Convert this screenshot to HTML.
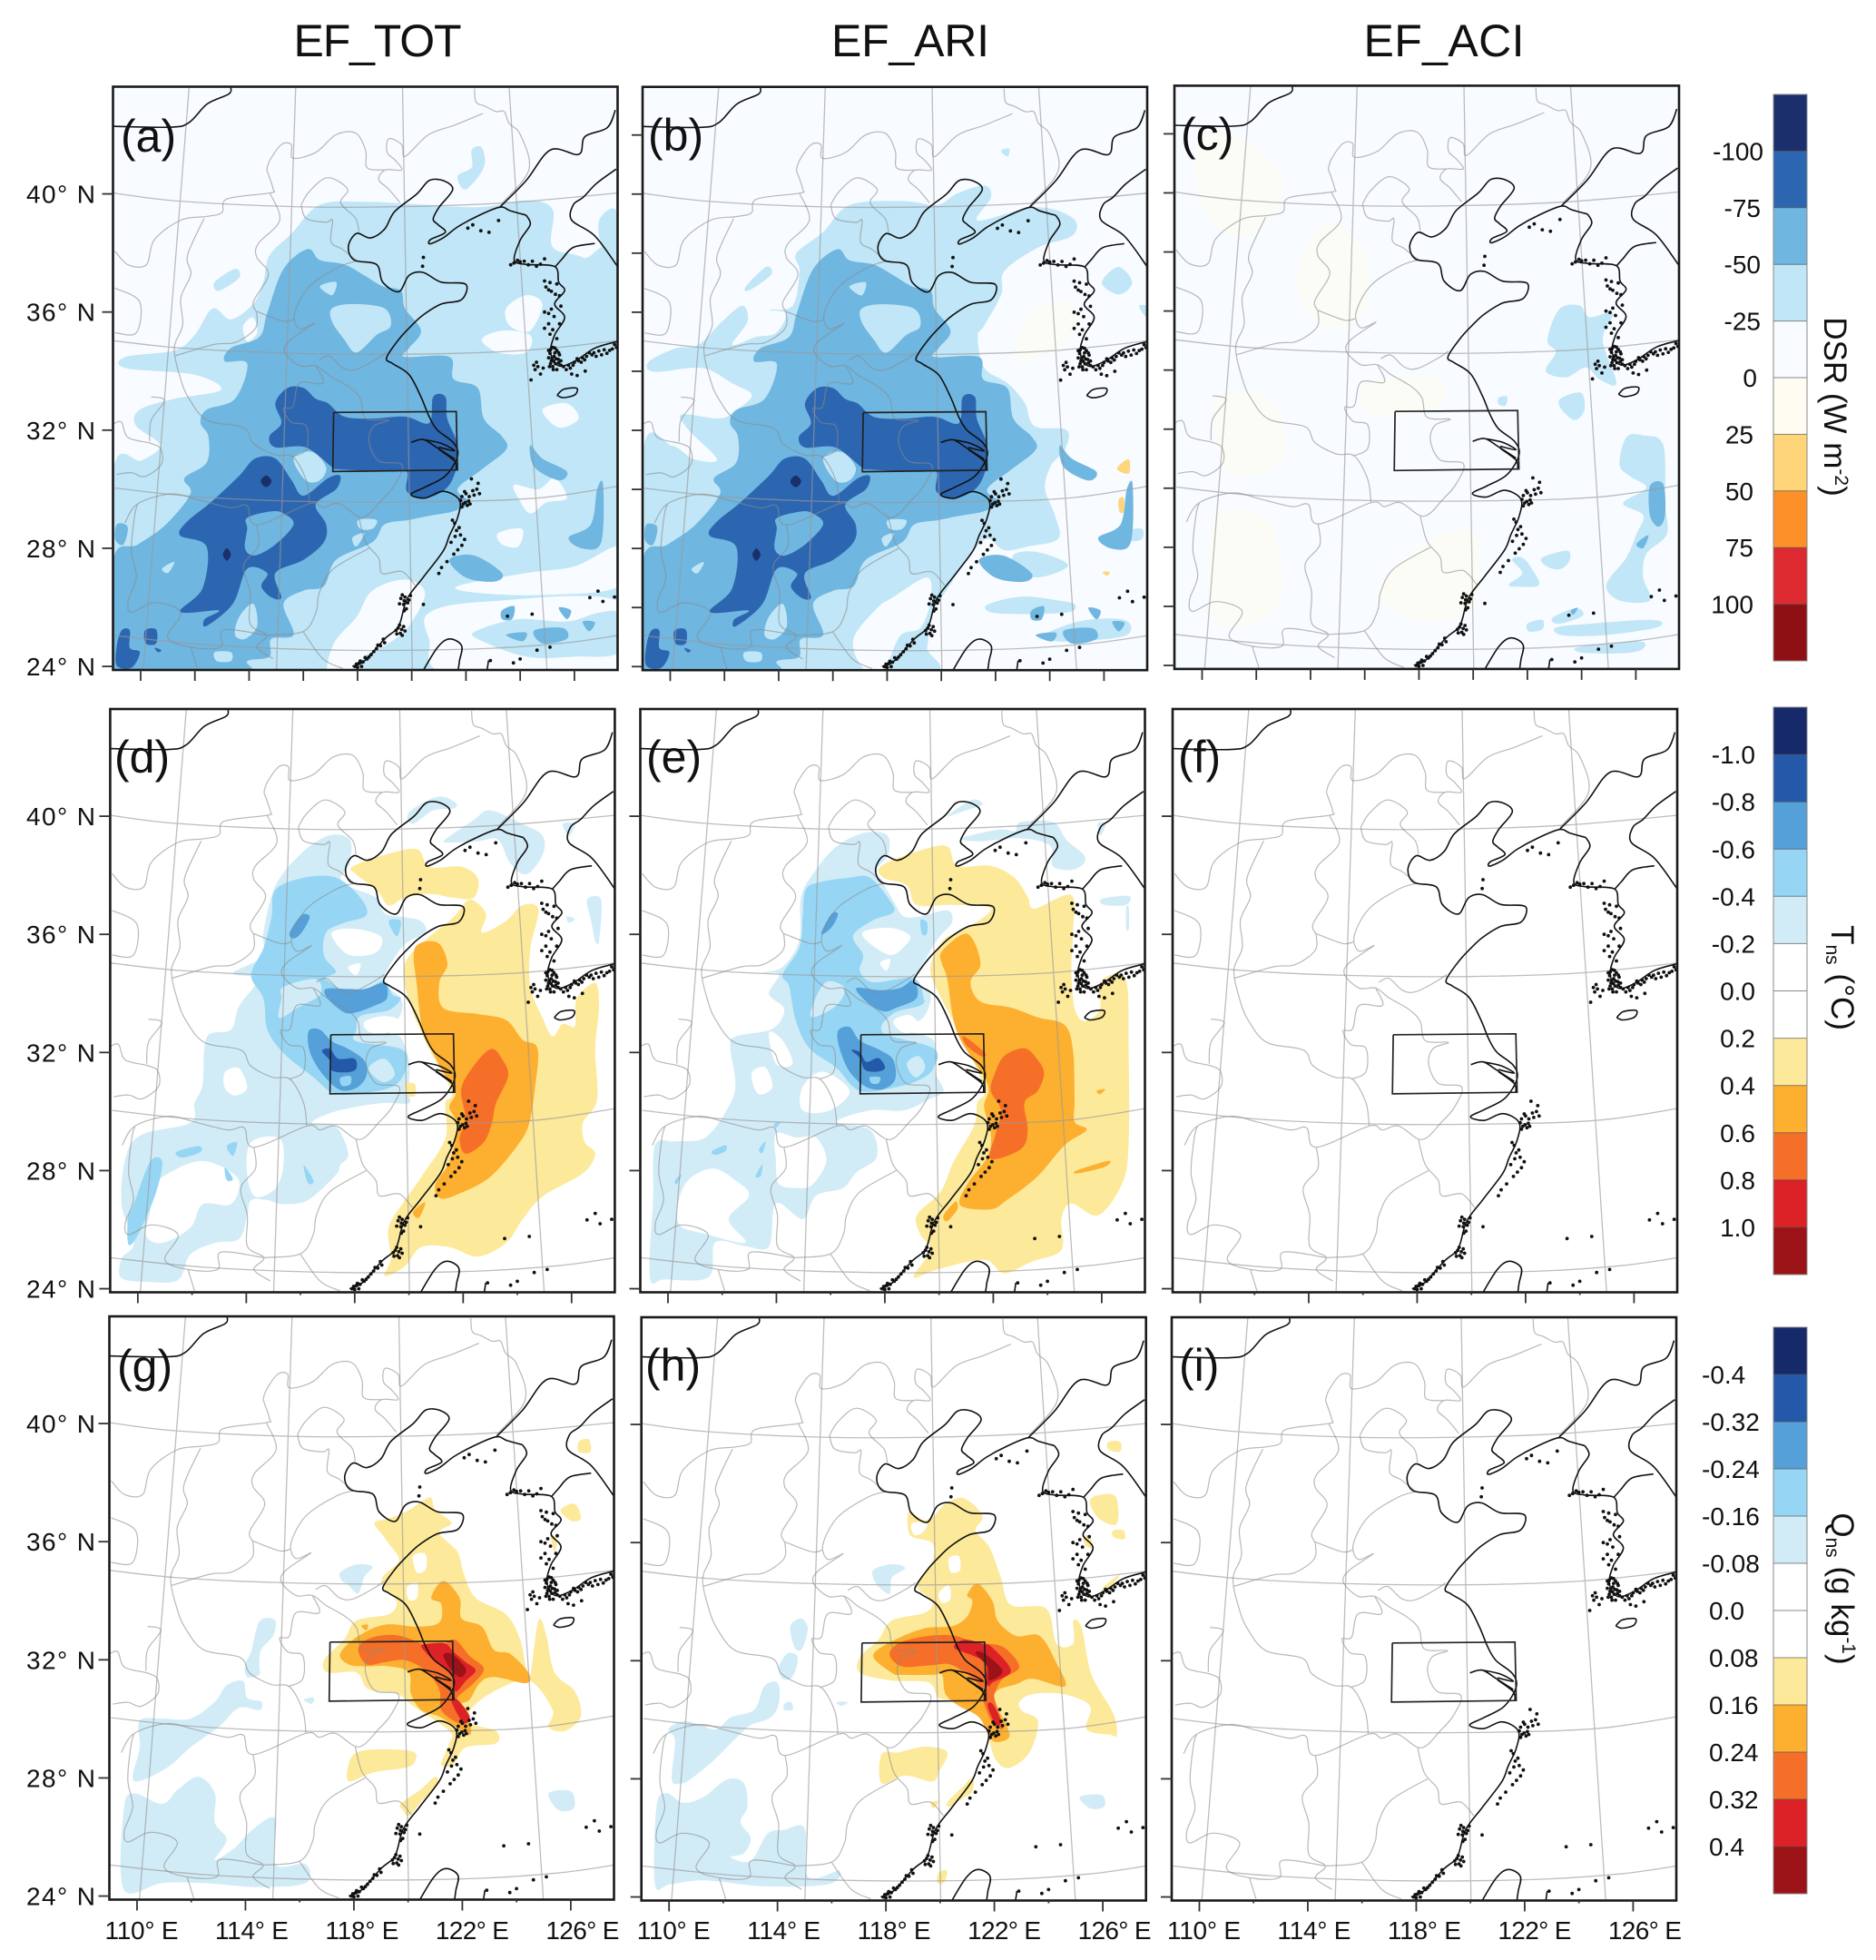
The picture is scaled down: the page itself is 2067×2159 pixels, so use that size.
<!DOCTYPE html>
<html lang="en">
<head>
<meta charset="utf-8">
<title>EF_TOT, EF_ARI and EF_ACI maps</title>
<style>
html,body{margin:0;padding:0;background:#fff;}
svg{display:block;}
text{font-family:"Liberation Sans","DejaVu Sans",sans-serif;fill:#111;}
</style>
</head>
<body>
<svg id="figure" xmlns="http://www.w3.org/2000/svg" width="2067" height="2159" viewBox="0 0 2067 2159">
<rect x="0" y="0" width="2067" height="2159" fill="#ffffff"/>
<g id="maps"></g>
<g id="bars"></g>
<text x="416" y="62" font-size="50" text-anchor="middle" textLength="185">EF_TOT</text>
<text x="1003" y="62" font-size="50" text-anchor="middle" textLength="174">EF_ARI</text>
<text x="1591" y="62" font-size="50" text-anchor="middle" textLength="177">EF_ACI</text>
<text x="133" y="167" font-size="50">(a)</text>
<text x="714" y="166" font-size="50">(b)</text>
<text x="1301" y="165" font-size="50">(c)</text>
<text x="126" y="851" font-size="50">(d)</text>
<text x="712" y="851" font-size="50">(e)</text>
<text x="1298" y="851" font-size="50">(f)</text>
<text x="129" y="1522" font-size="50">(g)</text>
<text x="711" y="1521" font-size="50">(h)</text>
<text x="1299" y="1521" font-size="50">(i)</text>
<text transform="translate(2010 448) rotate(90)" font-size="35" text-anchor="middle">DSR (W m<tspan font-size="21" dy="-12">-2</tspan><tspan dy="12">)</tspan></text>
<text transform="translate(2018 1077) rotate(90)" font-size="35" text-anchor="middle">T<tspan font-size="21" dy="6">ns</tspan><tspan dy="-6"> (°C)</tspan></text>
<text transform="translate(2018 1750) rotate(90)" font-size="35" text-anchor="middle">Q<tspan font-size="21" dy="6">ns</tspan><tspan dy="-6"> (g kg</tspan><tspan font-size="21" dy="-12">-1</tspan><tspan dy="12">)</tspan></text>
</svg>
<script>
/* ---------- tick values ---------- */
const lonTicks=[110,112,114,116,118,120,122,124,126];
const latTicks=[24,26,28,30,32,34,36,38,40,42];
const lonLabels=["110° E","114° E","118° E","122° E","126° E"];
const lonLabelValues=[110,114,118,122,126];
const latLabels=["24° N","28° N","32° N","36° N","40° N"];
const latLabelValues=[24,28,32,36,40];

/* ---------- colorbar levels ---------- */
const dsrLevels=["-100","-75","-50","-25","0","25","50","75","100"];
const tnsLevels=["-1.0","-0.8","-0.6","-0.4","-0.2","0.0","0.2","0.4","0.6","0.8","1.0"];
const qnsLevels=["-0.4","-0.32","-0.24","-0.16","-0.08","0.0","0.08","0.16","0.24","0.32","0.4"];

/* ---------- geography, lon/lat pairs ---------- */
const parallels=[
[108.99,40.03,111.36,39.76,115.62,39.57,119.63,39.57,123.53,39.7,127.6,40.03],
[108.99,35.03,111.5,34.78,115.38,34.61,119.88,34.57,124.14,34.7,127.6,35.03],
[109.05,30.04,112,29.75,116.23,29.58,121.09,29.58,124.74,29.71,127.6,30.1],
[108.99,25.05,112.58,24.72,117.45,24.55,122.31,24.59,125.5,24.78,127.6,25.05]];
const meridians=[
[111.79,43.63,110.09,23.88],[115.72,43.63,115.01,23.88],[119.66,43.63,120.02,23.88],[123.59,43.63,124.99,23.88]];
const provinceLines=[
[122.31,43.57,122.37,43.11,122.68,42.98,123.1,42.79,123.41,42.79,123.59,42.39,124.01,42,124.32,40.81,123.28,39.63],
[122.62,42.72,121.58,42.33,120.61,42,119.76,41.27,119.63,41.67,119.15,41.87,119.09,41.41,119.39,41.14,119.63,40.81,119.03,40.81,118.78,40.49,119.15,40.16,119.57,39.7],
[114.65,40.81,114.77,41.14,115.19,41.67,115.56,41.67,115.62,41.21,116.47,41.41,117.2,42,117.93,42.06,118.3,41.47,118.36,40.88,119.03,40.81],
[114.65,40.81,114.89,40.16,114.77,40.03,113.19,39.83,113,39.37,112.46,39.24,111.48,39.11,110.51,38.45,110.21,37.6,109.54,37.6,109.05,38.06],
[114.77,40.03,115.13,39.11,114.34,38.32,114.28,37.86,114.71,37.27,114.16,36.35,114.28,35.95,114.22,35.43,113.49,34.97,112.7,34.9,111.24,34.51],
[112.34,39.17,111.73,37.92,111.85,37.27,111.48,36.48,111.55,35.56,111.24,34.77,111.48,33.72,111.79,33.06,112.46,32.34,113.8,32.08,114.16,31.55,114.95,31.16,115.62,31.09,116.11,30.3,116.23,29.51],
[117.99,37.73,117.32,37.53,116.23,36.87,115.68,35.95,115.86,35.43,116.41,35.62,115.5,35.04,115.32,34.64,115.86,34.18,116.47,34.18,116.96,33.85,117.69,33.46,118.11,33.06,118.3,32.4,119.15,32.34,118.6,32.14,118.42,31.62,118.78,30.96,119.64,30.83,119.39,30.17,118.91,29.65,118.18,29.05,117.32,29.51,116.72,29.38,116.23,29.51,114.28,28.79,113.92,29.45,113.31,29.38,112.09,29.65,111.12,29.84,109.9,29.51,109.42,28.86],
[115.92,39.63,116.23,40.09,116.9,40.55,117.63,40.16,117.38,39.7,117.93,39.17,118.05,38.71],
[115.92,39.63,116.11,39.17,116.84,39.04,117.08,39.11,117.02,38.38,117.45,38.12,117.99,37.73],
[114.28,36.02,115.26,35.69,115.68,35.76],
[116.47,34.18,116.72,33.59,115.86,33.59,115.62,32.8,115.26,32.73,115.56,32.27,116.11,32.14,116.11,31.35,115.56,31.09],
[116.59,34.38,116.96,34.51,117.45,34.11,117.93,34.05,118.66,34.38,119.09,34.64],
[118.05,29.05,118.3,28.2,118.78,27.67,118.91,27.15,119.64,27.21,120.12,26.75],
[118.42,28,117.08,27.28,116.59,26.49,116.47,25.83,115.99,25.18,114.65,25.05],
[114.28,28.79,114.34,28.07,113.8,27.41,114.04,26.49,114.04,25.44,114.65,25.05,114.28,24.65,114.89,24.26],
[109.9,29.51,109.78,29.12,109.66,27.94,109.84,27.02,109.54,26.23,109.66,25.83,110.51,26.16,111.48,25.83,111,24.98,111.85,24.65,112.94,24.65,113.07,25.24,114.65,25.05],
[108.99,32.21,109.29,32.27,109.54,31.75,110.39,31.55,110.75,31.35,110.75,30.83,110.15,30.43,109.66,30.56,109.11,30.5],
[110.39,33.13,110.88,33,110.39,32.34,110.33,31.62],
[109.05,36.81,109.96,36.35,109.84,35.3,109.05,35.3],
[115.99,25.18,116.72,24.26,117.45,23.93],
[111.85,24.65,112.09,23.93]];
const coastLines=[
[124.22,39.28,123.63,39.43,123.25,39.55,122.43,39.25,121.69,38.88,121.16,38.51,120.67,38.31,120.7,38.46,121.24,38.7,120.97,38.96,120.79,39.15,121.01,39.55,121.51,40.15,121.16,40.45,120.64,40.45,120.19,40,119.37,39.4,119,38.81,118.48,38.51,117.96,38.66,117.66,38.21,117.88,37.76,118.7,37.61,118.93,37.01,119.52,36.69,119.9,37.24,120.42,37.34,121.09,37.01,121.99,36.94,121.84,36.42,121.09,36.27,120.42,35.9,119.97,35.52,119.52,35.07,119.07,34.45,119.3,34.25,119.9,33.88,120.34,33.13,120.64,32.46,120.94,32.01,121.54,31.57,121.69,31.12,121.24,30.45,120.49,30.07,119.97,29.82,120.49,29.7,121.16,29.93,121.76,29.63,121.69,29.03,121.39,28.43,121.16,27.91,120.42,27.01,119.82,26.27,119.52,25.37,119,24.93,118.25,24.18,117.81,24],
[124.22,39.28,124.37,38.96,124,38.43,123.78,37.76,124.22,37.61,125.27,37.54,125.42,37.01,125.64,36.72,125.27,36.27,125.64,35.82,125.27,35.22,125.12,34.63,125.42,34.18,126.01,34.33,126.76,34.78,127.57,35],
[123.25,39.55,124.22,40.45,125.12,41.49,126.16,41.34,126.39,41.94,127.21,42.24,127.51,42.84],
[127.54,40.84,126.81,40.35,126.33,39.89,125.96,39.63,125.9,39.11,126.75,38.58,127.6,37.53],
[126.75,38.32,125.96,38.19,125.54,37.79,125.29,37.53],
[108.99,42.29,111.12,42.26,111.79,42.42,112.46,43.05,113.25,43.38,113.33,43.6],
[120.34,23.73,120.94,24.63,121.39,24.93,121.84,24.7,121.76,24.18,121.69,23.73],
[122.83,24.2,122.78,23.88],
[119.98,31.59,120.43,31.68,120.91,31.42,121.58,31.02],
[120.43,31.68,121.1,31.55,121.58,31.3,121,31.42],
[121,31.35,121.58,30.95,121.64,30.65],
[125.36,33.18,125.6,33.38,126.08,33.42,126.02,33.2,125.6,33.1,125.36,33.18]];
const islandSpots=[125.2,34.8,125.35,34.7,125.1,34.6,125.25,34.5,125.4,34.4,125.15,34.35,125.3,34.25,125.05,34.45,125.45,34.55,125.2,34.15,125.35,34.05,125.5,34.2,124.6,34.3,124.55,34.05,124.75,33.9,124.4,33.7,124.85,34.1,124.5,34.2,124.65,34.15,125.7,34.05,125.85,34.1,126,34.3,126.15,34.35,126.3,34.45,126.45,34.5,126.65,34.55,126.8,34.5,127,34.55,127.2,34.6,127.4,34.75,127.55,34.8,125.9,33.9,126.1,33.85,126.4,34,124.95,36.85,125.15,36.7,125.3,36.6,124.9,36,125.05,35.95,125.25,35.85,125.05,35.6,125.2,35.4,122.07,38.84,122.25,38.95,122.55,38.75,122.85,38.7,123.2,39.1,123.77,37.66,124,37.7,124.3,37.6,124.6,37.55,120.43,37.85,120.4,37.55,121.85,29.75,122,29.85,122.1,29.6,121.9,29.5,122.05,29.45,122.25,29.95,122.45,30.2,122.2,30.35,122.5,29.85,122.4,30,121.58,28.85,121.75,28.7,121.6,28.4,121.85,28.1,121.95,28.3,121.7,27.95,121.3,27.55,121.1,27.35,119.75,26.35,119.6,26.3,119.85,26.15,119.95,26.4,119.7,26.1,119.8,25.95,119.63,25.25,119.5,25.3,119.75,25.2,119.65,25.05,119.45,25.1,119,24.8,118.85,24.7,118.7,24.6,118.5,24.4,118.35,24.25,118.2,24.15,118.05,24.1,117.9,24,118,23.97,118.15,24,127.05,26.2,126.57,26.33,126.87,26.55,127.48,26.35,125.1,24.65,124.62,24.55,124,24.25,123.75,24.12,122.9,24.2,123.53,25.7,124.44,25.77,120.43,26.1,
125.12,34.72,125.28,34.62,125.18,34.44,125.32,34.42,125.12,34.25,125.24,34.33,125.42,34.28,125.28,34.78,125.05,34.7,125.42,34.62,125.22,34.05,125.08,34.15,125.5,34.35,
125.6,34.15,125.78,34.2,125.95,34.2,126.1,34.42,126.25,34.3,126.38,34.38,126.55,34.62,126.72,34.62,126.9,34.68,127.1,34.72,127.3,34.7,127.48,34.9,
124.9,37.05,125.1,37,125.35,36.95,125.05,36.75,125.45,36.55,125.5,36.2,125.15,36.1,125.45,35.6,125.1,35.25,125.35,35.1,124.9,35.45,
123.9,37.75,124.15,37.72,124.45,37.72,124.75,37.62,124.9,37.8,123.65,37.6,
121.95,29.92,121.8,29.62,122.12,29.75,121.98,29.55,121.85,29.4,122.15,29.5,122.3,29.8,
121.5,28.95,121.65,28.6,121.45,28.2,121.8,28.45,121.55,27.8,121,27.15,
119.65,26.42,119.72,26.22,119.9,26.25,119.55,26.12,119.72,25.88,119.55,25.4,119.42,25.22,119.7,25.35,119.58,25.12,
118.95,24.92,118.75,24.72,118.6,24.5,118.42,24.32,118.28,24.3,118.1,24.18,117.96,24.08];
const regionBox=[117.12,32.6,121.64,32.63,121.69,30.65,117.09,30.6,117.12,32.6];

/* ---------- panels (a), (b): DSR contours ---------- */
const aLight=[108.99,23.73,108.99,30.6,110.04,30.97,110.72,31.49,109.82,32.16,109.97,32.69,111.24,33.06,112.96,33.36,111.99,33.88,109.45,34.1,109.45,34.48,111.24,34.7,111.99,35.22,112.66,36.12,113.33,35.75,114.15,36.27,114.52,37.01,114.75,37.91,115.57,38.66,116.61,39.63,118.25,39.73,119.75,39.67,122.43,39.55,124.22,39.78,125.19,39.48,125.19,38.21,126.31,37.84,127.66,37.01,127.66,23.73];
const aLightExtra=[[122.21,41.49,122.58,41.57,122.66,40.9,121.99,40.15,121.69,40.6,122.21,40.9],[112.73,37.01,113.48,37.46,113.63,37.16,112.88,36.72],[126.91,39.1,127.57,39.4,127.66,37.31,127.06,38.06]];
const aClear=[[113.78,35.52,114.15,35.82,114.3,35.3,113.93,35],[122.58,35.07,123.33,35.37,124.37,35.22,124.22,34.63,123.18,34.63],[123.48,36.12,124.22,36.57,124.82,36.27,124.37,35.37,123.63,35.52],[123.78,30.15,124.67,30,125.27,30.37,125.72,29.7,124.97,29.55,124.37,29.18,123.93,29.7],[124.82,32.69,125.72,32.91,126.16,32.39,125.42,32.09],[123.18,28.51,124.07,28.66,123.93,28.06,123.33,28.13],[116.91,23.73,117.13,24.78,117.96,25.67,118.55,26.57,119.75,26.94,120.49,26.49,119.9,25.37,119.15,24.78,118.25,24.33,117.81,23.73],[121.69,26.72,124.22,27.16,126.01,27.39,127.66,28.06,127.66,26.72,124.97,26.42,122.43,26.49],[120.64,25.82,122.73,26.19,127.66,26.19,127.66,23.73,121.39,23.73,120.64,24.93]];
const aLightLow=[122.43,25.22,123.93,25.6,125.72,25.52,126.91,25.82,127.66,25.75,127.66,24.48,126.01,24.33,124.22,24.33,122.43,24.93];
const dsrMid=[108.99,27.61,109.9,28.13,110.94,28.81,111.84,29.85,111.61,30.37,112.43,30.9,112.5,31.79,112.21,32.24,112.43,32.69,113.48,33.06,113.93,34.25,113.1,34.33,113.33,34.78,114.37,35.15,114.67,35.97,115.27,37.46,116.16,38.13,116.61,37.76,117.51,37.61,118.25,37.24,118.93,36.87,119.6,36.72,119.75,36.12,120.34,35.37,119.9,34.78,119.75,34.48,121.39,34.48,121.54,33.73,122.43,33.43,122.66,32.39,123.33,31.79,123.48,31.34,122.58,30.67,121.69,30,122.13,29.55,121.54,29.25,120.64,29.1,119.9,28.96,119,28.81,118.55,28.21,117.21,27.61,116.76,26.72,116.01,26.57,115.27,26.12,115.64,25.07,114.82,24.93,114.75,24.33,113.93,24.18,113.78,23.73,108.99,23.73];
const aMidExtra=[[124.37,31.49,124.82,31.04,125.72,30.6,125.42,30.3,124.52,30.75],[125.79,28.36,126.61,28.81,126.84,30,127.06,30.15,126.99,28.21,126.31,27.99],[121.39,27.61,122.28,27.76,123.33,27.16,123.03,26.87,121.99,27.01],[123.33,25.9,123.78,26.04,123.7,25.6,123.33,25.6],[125.42,25.99,125.87,25.9,125.72,25.6],[123.48,25.07,124.22,25.15,124.07,24.85],[124.52,25.22,125.57,25.3,125.72,24.93,124.82,24.78],[126.31,25.52,126.76,25.49,126.54,25.19],[109.12,28.81,109.52,28.73,109.37,28.13,109.07,28.28]];
const dsrMidHoles=[[117.06,36.12,117.81,36.27,119,36.12,119.22,35.52,118.7,35.22,117.96,34.63,117.51,35.07,117.06,35.67],[116.61,36.87,117.21,37.01,117.06,36.57],[115.64,31.04,116.31,31.27,116.84,30.75,116.61,30.3,116.09,30.3],[112.73,24.48,113.33,24.48,113.33,24.18,112.81,24.18],[113.63,25.67,114.15,26.12,114.3,25.37,113.85,24.93,113.48,25.07],[118.03,28.96,118.7,28.96,118.55,28.66,118.1,28.66],[117.81,28.36,118.25,28.51,117.96,28.06],[110.79,27.31,111.24,27.54,111.01,27.16]];
const dsrDarkNorth=[114.97,32.91,115.42,33.43,116.01,33.43,116.46,33.06,116.91,32.91,117.51,32.46,118.55,32.39,119.75,32.46,120.64,32.24,120.79,33.13,121.24,33.13,121.31,32.39,121.69,31.49,121.61,30.6,121.24,30,120.49,29.7,119.82,29.93,119.82,30.6,119.15,30.6,117.36,30.67,117.06,30.75,116.09,31.42,114.97,31.42,114.75,31.79,115.19,32.24];
const dsrDarkSouth=[114.22,31.04,114.97,31.04,115.57,30.3,116.01,29.78,116.91,30.37,117.36,30.45,117.21,30,116.46,29.48,116.84,28.81,116.76,28.21,116.01,27.61,114.97,27.16,115.19,26.34,114.82,26.34,114.45,26.72,114.67,27.16,113.93,27.31,113.4,26.12,112.43,25.37,112.36,25.6,112.88,25.9,111.46,25.85,112.28,26.64,112.43,28.06,111.46,28.43,111.69,28.88,112.58,29.55,113.63,30.45];
const dsrDarkHole=[113.93,29.03,114.82,29.25,115.27,29.18,115.64,28.81,114.97,28.13,114.22,27.76,113.85,27.99,113.93,28.66];
const dsrDarkSmall=[[109.3,25.22,109.6,25.22,109.6,24.63,109.97,24.48,109.67,23.96,109.12,24.03,109.12,24.7],[110.16,25.22,110.57,25.25,110.57,24.78,110.19,24.78],[110.52,24.63,110.76,24.55,110.64,24.48]];
const dsrDarkest=[[114.43,30.27,114.63,30.47,114.83,30.27,114.63,30.07],[113.03,27.79,113.18,28,113.33,27.79,113.18,27.58]];
const bLight=[109,23.7,109,31.29,110.06,31.48,110.87,31.02,111.73,31.02,110.68,32.01,110.43,32.54,111.8,32.4,112.42,32.67,113.01,33.19,112.29,33.59,111.18,34.11,109.44,33.98,109.19,34.31,110.19,34.77,111.05,34.9,111.92,35.69,112.66,36.22,112.85,35.69,112.29,34.9,113.16,35.16,113.9,35.3,114.28,35.95,113.66,36.08,114.52,36.22,114.77,37.4,114.65,37.99,115.64,38.71,116.63,39.63,118.61,39.76,119.85,39.63,120.6,40.03,121.59,40.29,121.83,39.89,121.34,39.11,123.07,39.5,124.06,39.5,124.93,39.11,124.81,38.58,123.57,38.19,122.33,37.4,122.21,36.61,121.59,35.56,121.34,35.16,121.59,34.11,122.45,33.59,123.07,32.93,123.44,32.14,124.62,32.01,124.56,31.35,124.06,30.83,123.82,30.04,124.19,29.12,124.31,28.33,123.2,28.07,122.33,27.94,121.71,28.33,121.09,27.81,120.22,26.62,119.6,25.7,119.48,24.65,119.11,23.7];
const bClear=[[117.13,23.93,116.75,24.91,117.62,25.97,118.24,26.36,119.48,27.02,119.6,26.23,119.23,25.31,118.49,25.05,117.87,23.93]];
const bLightExtra=[[121.71,26.1,122.95,26.37,124.31,26.24,124.93,26.1,124.69,25.84,122.95,25.78,121.83,25.84],[122.7,27.81,123.57,27.87,124.68,27.43,123.57,27.02,122.7,27.29],[124,25.18,125.3,25.57,126.79,25.57,126.79,25.05,124.81,24.85,123.94,24.92],[126.93,28.6,127.41,28.66,127.41,28.33,127.04,28.26],[125.92,37,126.54,37.53,127.04,37,126.54,36.6],[122.2,41.47,122.5,41.54,122.45,41.27],[127.29,36.2,127.6,36.2,127.6,35.8],[112.79,36.87,113.53,37.53,113.72,37.27,112.91,36.74]];
const bWarmPale=[122.83,35.03,123.45,36.08,124.69,36.35,125.06,35.56,124.19,34.77,122.95,34.25];
const bWarm=[[126.48,30.7,126.91,31.02,126.91,30.54],[126.54,29.65,126.73,29.71,126.73,29.25,126.57,29.25],[125.95,27.2,126.2,27.2,126.11,27.08]];

/* ---------- panel (c) ---------- */
const cLight=[[123.17,36.06,123.92,36.19,124.29,35.79,125.15,35.93,124.78,35.01,125.28,33.56,124.66,33.69,124.16,34.09,123.42,33.76,122.68,33.96,123.05,34.61,122.74,35.01],[123.23,33.04,123.98,33.23,124.1,32.64,123.73,32.31,123.23,32.71],[125.4,30.8,125.65,31.72,126.27,31.79,127.01,31.46,127.08,29.49,127.14,28.44,126.39,27.78,126.27,26.99,126.52,26.2,125.4,26.2,124.91,26.73,125.65,27.65,126.02,28.44,126.27,29.09,125.53,29.49,126.39,30.01,125.77,30.41],[121.44,27.58,121.81,27.65,122.18,27.25,122.43,26.73,121.81,26.66,121.31,26.73,121.81,27.12],[122.55,27.65,123.48,27.88,123.54,27.52,123.17,27.25,122.67,27.38],[122.92,25.61,123.79,25.94,124.04,25.68,123.17,25.41],[122,25.41,122.55,25.54,122.55,25.22,122.06,25.15],[123.05,25.28,124.29,25.41,126.64,25.54,126.77,25.28,124.78,25.02,123.3,25.02],[123.92,24.63,126.02,24.82,126.33,24.63,125.77,24.43,124.04,24.43],[120.94,33.06,121.25,33.1,121.19,32.8,120.94,32.84]];
const cMid=[[126.52,30.08,127.01,30.14,127.08,29.09,126.83,28.7,126.52,29.09],[126.02,28.11,126.46,28.41,126.27,27.97],[123.6,25.85,123.85,25.95,123.7,25.72]];
const cPaleWarm=[[110,42,112,41.5,113,40,111.5,38.5,110,39.5],[114.5,39,116,38,116,36,114.5,35.5,113.5,37],[110.5,33,112.5,33,113,31,111,30.5],[118,28,120,28.5,120,26,118,25.5,116.5,26.5],[110.5,29,112.5,28.8,112.8,26,110.5,25.5],[116,33.5,118.5,33.8,118.8,32.8,116.2,32.5]];

/* ---------- panel (d) ---------- */
const dPale=[109.4,24.36,109.4,25.02,109.85,25.55,109.4,26.86,109.55,28.44,110.15,29.22,111.94,29.62,112.09,30.28,112.39,30.93,112.54,32.51,113.43,32.77,113.73,33.56,114.4,34.48,113.51,34.68,114.63,35.27,114.63,36.06,115.07,37.63,115.97,38.69,117.01,39.34,117.81,39.21,117.81,38.42,117.51,37.77,118.81,37.24,119.1,36.71,119.85,36.58,120.45,36.45,120.6,36.06,119.85,35.66,119.25,34.88,119.1,34.35,119.7,33.82,119.7,33.3,119.25,32.64,119.7,32.51,120,31.72,120,31,119.93,30.67,120,30.28,118.96,30.28,117.31,30.01,116.42,29.62,117.31,29.49,117.76,28.57,117.46,28.18,117.31,27.85,116.27,27,115.37,26.86,114.78,27,114.18,27,114.03,26.46,113.73,25.68,112.84,25.55,111.94,25.16,111.49,24.3,110.45,24.23];
const dClear=[[113.21,31.33,113.73,31.46,114.03,30.8,113.58,30.54,113.21,30.8],[110.9,27.78,112.09,28.3,112.99,28.18,113.73,27.65,113.43,26.86,112.39,26.86,111.94,26.07,110.9,25.55,110.3,25.81,110.45,26.6,110.6,27.39],[114.18,28.96,115.22,29.09,115.37,28.18,115.07,27.39,114.33,27.12,114.03,27.91],[117.16,36.06,117.96,36.19,118.96,35.93,118.81,35.4,117.96,35.27,117.46,35.53],[117.76,34.88,118.21,35.01,118.06,34.61],[118.36,33.04,119.1,33.23,119.7,33.04,119.1,32.64,118.51,32.71]];
const dPaleExtra=[[120,40.13,121.04,40.66,121.72,40.46,121.64,40.26,120.9,40.2,120.15,39.74],[121.34,39.21,122.39,39.87,122.99,40.2,124.18,39.74,124.93,39.34,124.93,38.69,124.33,38.03,123.73,38.42,123.28,39.21,122.54,39.15,121.49,39.11],[125.67,39.74,126.12,39.74,125.9,39.34],[126.57,37.17,127.09,37.17,127.01,35.79,126.87,35.79,126.72,36.45],[125.82,36.61,126.12,36.52,125.9,36.39]];
const dLight=[115.07,37.5,116.12,37.92,117.31,37.92,118.21,37.24,118.43,36.65,117.61,36.39,116.94,36.06,116.87,35.27,117.31,34.74,116.94,34.48,118.06,33.96,119.03,34.42,119.4,33.96,119.7,33.82,119.25,33.43,118.21,33.23,118.06,32.77,118.06,32.38,119.7,32.12,119.93,31.59,119.55,30.93,118.66,30.67,117.31,30.6,116.42,31.2,115.37,31.98,114.78,32.77,114.63,33.82,114.18,34.61,114.63,35.53,114.93,36.58];
const dLightHoles=[[115.37,34.22,116.57,34.48,116.72,33.96,115.97,33.56,115.22,33.17,115.3,33.83],[118.51,31.46,119.1,31.79,119.48,31.26,119.03,31]];
const dLightExtra=[[119.25,36.45,119.7,36.45,119.55,35.93],[111.42,28.63,112.24,28.83,112.31,28.63,111.64,28.44],[109.85,26.86,110.45,28.3,110.9,28.3,110.67,27.25,110.07,25.94,109.67,25.48,109.63,26.33],[113.28,28.83,113.66,28.96,113.51,28.5],[113.21,28.11,113.51,27.72,113.28,27.68],[116.12,28.18,116.49,27.65,116.27,27.58]];
const dMid=[[116.34,32.77,116.72,32.77,117.16,32.38,117.76,32.12,118.36,31.72,118.43,31.2,118.06,30.8,117.46,30.73,116.87,31.2,116.42,31.85,116.27,32.38],[116.94,34.15,117.76,34.15,118.36,34.15,119.1,34.35,119.18,33.82,118.66,33.56,118.06,33.36,117.61,33.36,117.01,33.82],[115.6,36.06,116.04,36.65,116.34,36.58,116.04,36.06,115.75,35.86]];
const dMidHole=[117.46,31.13,117.84,31.2,117.84,30.93,117.54,30.87];
const dDark=[116.79,32.05,117.09,32.12,117.39,31.79,117.99,31.79,118.06,31.46,117.76,31.33,117.16,31.39,117.09,31.72];
const dYellow=[[117.91,38.29,119.1,38.69,120.3,38.88,120.75,38.29,121.94,38.29,122.54,37.9,122.39,37.24,121.64,37.24,120.75,37.37,119.85,37.24,119.25,36.98,118.81,37.5,118.06,38.03],[122.24,37.17,122.84,36.71,122.69,36.06,123.58,36.45,124.18,36.98,124.78,36.85,124.48,35.53,124.48,34.22,124.93,33.17,125.3,32.54,125.67,32.97,126.12,32.9,126.19,33.82,126.87,34.35,127.01,33.56,126.87,32.12,126.94,30.41,126.42,29.62,126.49,28.96,126.87,28.57,126.42,27.91,124.93,27.12,124.18,26.33,123.58,25.55,122.54,25.09,121.49,25.41,120.45,25.41,119.85,24.76,119.1,24.43,119.33,25.02,119.25,26.07,119.85,26.99,120.45,27.78,121.34,29.09,121.34,30.28,121.57,30.67,120.6,32.38,119.93,33.96,119.85,35.01,120.6,35.8,121.64,36.58],[119.85,30.93,120.22,30.93,120.22,30.54,119.93,30.54]];
const dOrange=[[120.22,35.53,121.04,35.73,121.42,35.01,121.12,34.35,121.27,33.5,122.54,33.3,123.58,33.1,124.18,32.44,124.75,32.12,124.63,30.67,124.4,29.49,123.88,28.7,122.99,27.78,121.94,27.25,121.19,27.05,120.97,27.51,121.49,28.3,121.79,29.49,121.49,30.15,121.72,30.67,121.19,31.46,120.52,32.77,120.3,34.22],[120.15,26.6,120.6,26.93,120.37,26.4]];
const dDeep=[121.94,30.8,122.54,31.72,123.06,32.12,123.43,31.79,123.66,31.2,123.21,30.28,123.06,29.62,122.76,28.96,122.09,28.57,121.87,29.09,122.09,29.75];

/* ---------- panel (e) ---------- */
const ePale=[109.33,24.39,109.45,27.02,109.52,28.86,110.26,28.99,111.38,29.12,112.24,30.17,112.49,30.96,112.3,32.14,112.49,32.54,113.85,32.8,114.29,33.46,113.73,33.98,114.1,34.64,113.48,34.7,114.23,34.9,114.85,35.82,114.91,37.27,115.46,38.19,116.21,38.97,117.2,39.43,118.07,39.37,118.13,38.71,117.7,38.19,117.94,37.73,118.31,37.14,118.69,36.61,119.31,36.61,120.3,36.81,120.48,36.41,119.93,35.82,119.43,35.03,119.06,34.38,119.68,33.98,119.43,33.19,118.69,32.8,119.8,32.4,119.86,31.35,120.17,30.7,119.68,30.43,118.69,30.04,117.45,30.04,116.21,29.65,117.45,29.38,117.7,28.46,116.95,27.94,116.46,27.41,115.46,27.15,114.97,26.36,113.98,26.89,113.73,25.44,112.86,25.44,111.75,25.57,111.5,24.39,109.89,24.32];
const eClear=[[110.63,27.54,111.62,28.07,112.49,27.67,112.99,27.15,112.24,26.36,112.86,25.57,111.5,25.83,110.38,26.23],[113.11,31.35,113.61,31.48,113.85,30.83,113.42,30.57,113.17,30.83],[113.98,29.25,114.72,29.12,115.46,29.12,115.84,28.33,115.34,27.54,114.85,27.41,114.1,27.54,113.98,28.33],[117.2,36.08,118.19,36.22,118.93,35.95,118.69,35.56,118.19,35.3,117.45,35.69],[117.82,35.03,118.19,35.16,118.07,34.77],[118.31,33.06,118.93,33.26,119.31,32.8,118.69,32.67],[113.73,32.67,114.23,32.4,114.6,31.62,113.98,31.62],[114.97,30.83,115.71,31.35,116.7,30.7,115.96,30.04,114.97,30.04]];
const ePaleExtra=[[120.3,40,121.2,40.55,121.6,40.4,121,40.2],[120.8,39.25,122.2,39.55,122.8,39.5,123,39.8,124.2,39.8,124.7,39.2,125.4,38.6,125,38.2,124.2,38.3,124.1,39,123,39.25,121.5,39.15],[125.85,39.75,126.15,39.75,125.95,39.35],[126,37.2,127,37.3,126.9,37,126.1,37],[126.9,36.9,127,36.9,127,36.2,126.9,36.2]];
const eLight=[115.09,37.53,115.71,37.79,116.7,37.92,117.45,37.92,118.19,37.14,118.31,36.74,117.57,36.48,116.83,35.95,117.2,35.3,117.08,34.77,117.57,34.38,119.06,34.51,119.43,33.85,119.31,33.59,118.31,33.32,117.94,32.67,119.8,32.14,119.8,31.48,119.31,31.09,118.44,30.83,117.08,30.7,116.21,31.48,115.22,32.14,114.72,33.06,114.47,34.24,114.23,34.64,114.85,35.56,114.97,36.61];
const eLightHoles=[[115.34,33.59,115.83,34.38,116.52,34.18,116.21,33.59,115.34,33.19],[118.81,31.62,119.24,31.88,119.49,31.48,119.12,31.16]];
const eLightExtra=[[119.31,36.48,119.55,36.41,119.55,36.02,119.37,36.02],[111.62,28.66,112.12,28.86,112.12,28.66,111.75,28.53],[113.36,28.73,113.61,28.99,113.48,28.59],[113.23,27.81,113.48,28.2,113.42,27.81],[113.92,29.58,114.16,29.65,113.98,29.45],[110.26,27.67,110.51,27.87,110.32,27.54]];
const eMid=[[116.27,32.73,116.7,32.86,117.08,32.4,117.82,32.08,118.31,31.75,118.38,31.09,117.94,30.76,117.32,30.83,116.7,31.35,116.33,32.14],[116.95,34.18,117.82,34.11,118.56,34.18,119.06,34.44,119.18,33.85,118.44,33.52,117.94,33.39,117.32,33.72],[115.65,36.02,116.02,36.68,116.27,36.68,116.02,36.22]];
const eMidHole=[117.45,31.16,117.82,31.16,117.76,30.96,117.51,30.96];
const eDark=[116.77,32.08,117.08,32.01,117.32,31.68,117.76,31.81,118.01,31.48,117.7,31.35,117.26,31.42,117.08,31.81];
const eYellow=[[117.88,38.32,119.31,38.84,120.3,38.98,120.67,38.32,121.91,38.32,122.78,37.92,123.27,37.27,123.52,36.87,124.88,37.33,124.94,36.08,124.88,34.77,125.01,33.46,125.38,33.06,125.94,33.46,125.94,34.38,126.87,34.51,126.99,32.14,126.99,28.86,126.74,27.54,125.87,26.49,124.88,26.89,124.51,26.36,124.51,25.31,123.4,24.91,122.4,24.52,121.66,24.98,119.93,24.65,119.06,24.39,119.68,25.31,119.31,25.83,119.18,26.49,120.05,27.28,120.55,28.33,121.29,29.51,121.41,30.3,121.66,30.83,120.67,32.8,119.93,34.11,119.68,34.9,120.17,35.82,121.04,36.22,121.91,36.87,120.55,37,119.18,37,118.81,37.66,117.94,37.92]];
const eOrange=[[120.11,35.43,121.04,36.02,121.53,35.03,121.16,34.38,121.53,33.72,122.65,33.52,123.64,33.19,124.63,32.93,124.94,32.07,125,30.43,125,29.65,125.44,29.38,124.63,28.86,123.64,27.81,122.53,27.02,121.91,26.69,120.79,26.82,121.04,27.54,121.78,28.46,121.91,29.25,121.66,30.17,121.78,30.96,120.67,32.67,120.3,34.5,120.11,35],[120.17,26.49,120.61,26.95,120.67,26.69,120.3,26.29],[125.07,28,126.24,28.33,126.12,28.13,125.13,27.91],[125.81,30.7,126.12,30.76,125.94,30.59]];
const eDeep=[[122.03,31.22,122.4,31.88,123.15,32.14,123.64,31.75,123.87,31.29,123.64,30.7,123.15,30.3,123.27,29.38,123.02,28.73,121.91,28.4,122.09,29.25,122.28,30.04,121.91,30.7],[120.86,32.54,121.16,32.4,121.72,31.95,121.54,31.88,121.04,32.21]];

/* ---------- panel (g) ---------- */
const gPale=[[117.49,34.95,118.09,35.23,118.69,35.16,118.39,34.81,118.16,34.25,117.79,34.53,117.57,34.67],[114.43,33.12,114.66,33.4,115.1,33.33,115.03,32.83,114.58,32.34,114.51,31.85,114.51,31.5,114.06,31.42,113.99,31.85,114.21,32.27],[109.88,27.9,110.1,29.03,110.1,29.94,110.93,30.01,111.97,30.01,112.87,30.58,113.31,31.14,113.91,31.28,114.06,30.72,114.58,30.58,114.51,30.3,113.76,30.37,113.01,29.73,111.97,29.03,111.07,28.32],[109.51,24.23,109.51,26.91,109.88,27.48,110.93,27.12,111.52,27.62,112.27,28.04,112.87,27.48,112.87,26.49,113.31,25.92,112.87,25.22,113.61,25.64,114.21,26.21,115.1,26.63,115.1,25.08,116.22,25.08,116.22,24.44,114.51,24.3,112.42,24.44,110.93,24.44],[125.18,27.48,126,27.55,126.12,26.98,125.55,26.91],[116.15,30.65,116.52,30.72,116.45,30.51]];
const gYellow=[118.76,36.64,119.28,36.78,120.03,37.07,120.48,37.35,120.85,37.49,121,37.07,121.6,36.64,121.15,36.29,121.82,35.66,122.04,34.95,122.49,34.1,123.61,33.54,124.13,32.69,124.36,31.71,124.51,31.5,124.81,33.33,125.1,32.83,125.4,31.57,126.15,30.93,126.37,30.08,125.78,29.59,125.18,29.73,125.33,30.3,124.51,31.28,123.46,31.07,122.42,30.44,122.27,29.87,123.24,29.59,123.24,29.17,122.12,29.03,121.67,28.46,121.22,28.46,121.52,29.17,121.52,29.59,120.18,30.44,119.58,30.86,118.54,31,118.09,31.57,117.04,31.57,116.9,31.99,117.64,32.69,118.09,33.33,119.28,33.54,119.58,33.96,119.13,34.39,119.06,34.81,119.66,35.37,119.28,35.94,119.06,36.22];
const gYellowHoles=[[120.18,35.51,120.63,35.59,120.66,35.09,120.33,34.95],[119.96,34.46,120.33,34.6,120.33,34.1,120.03,34.03]];
const gYellowExtra=[[117.94,28.74,118.69,28.96,120.18,28.89,120.18,28.46,119.73,28.32,118.69,28.18,117.79,27.9],[119.73,27.12,120.48,27.62,121,28.04,121.07,27.76,120.48,27.19,120.03,26.7,119.81,26.91],[125.63,37.07,126.15,37.28,126.37,36.78,126,36.71],[126.3,39.39,126.67,39.46,126.72,39.04,126.3,39.04],[125.25,36.22,125.48,36.08,125.4,35.66]];
const gOrange=[[117.49,32.2,118.09,32.76,119.13,33.19,120.33,33.12,121.15,33.26,121.22,33.89,120.85,34.1,121.3,34.67,121.9,34.1,121.97,33.4,122.72,33.12,123.16,32.34,123.76,32.2,124.43,31.57,124.36,31.21,123.16,31.42,122.64,31.21,122.27,30.65,121.9,30.44,122.27,29.87,122.27,29.45,121.75,29.73,121.15,30.08,120.48,30.3,120.1,30.86,120.03,31.57,119.28,31.78,118.39,31.78,117.79,31.85],[118.27,33.15,118.51,33.19,118.46,33]];
const gDeep=[118.16,32.41,118.69,32.76,119.58,32.83,120.48,32.55,121,32.27,121.67,32.69,122.27,32.13,122.79,31.71,122.42,31.21,121.82,30.72,121.82,30.3,122.12,29.87,121.82,29.87,121.22,30.3,121.15,31,120.63,31.64,119.88,31.99,119.13,31.92,118.46,31.85];
const gRed=[[120.48,32.48,120.78,32.55,121.37,32.55,121.67,32.27,122.12,31.92,122.49,31.64,122.12,31.28,121.75,30.93,121.6,31.5,120.93,31.99,120.63,32.27],[121.6,30.58,121.82,30.65,122.27,30.08,122.04,29.87]];
const gMax=[121.3,32.13,121.6,32.2,122.12,31.71,121.97,31.42,121.67,31.57];

/* ---------- panel (h) ---------- */
const hPale=[[117.53,35.07,118.22,35.27,118.71,35.14,118.22,34.81,118.15,34.28,117.84,34.41,117.59,34.68],[114.5,33.23,114.87,33.43,115.12,33.1,114.93,32.44,114.68,32.38,114.5,32.84],[114.06,31.79,114.37,32.25,114.75,32.12,114.56,31.46,114.19,31.39],[110.1,27.98,110.22,29.29,109.98,29.68,110.53,29.96,111.15,29.82,111.77,29.68,112.27,30.08,113.14,30.34,113.51,31.13,114,31.26,114.06,30.6,113.75,30.08,113.01,29.82,112.52,29.42,111.65,28.63,110.78,27.98,110.41,27.84],[109.48,24.43,109.54,27.06,109.91,27.52,110.53,27.19,111.28,27.39,112.14,27.98,112.76,27.85,112.89,27.06,112.64,26.53,113.01,26,112.76,25.48,112.27,25.35,113.01,25.22,113.63,26.14,114.25,26.27,115,26.33,115.12,24.69,116.29,24.89,115.86,24.43,113.51,24.36,111.28,24.56,110.04,24.43],[125.15,27.39,125.96,27.45,126.05,27.06,125.53,27],[114.25,30.54,114.5,30.6,114.56,30.34,114.25,30.34],[116.17,30.6,116.6,30.6,116.36,30.47]];
const hYellow=[118.84,37.04,119.33,36.78,119.7,36.85,120.2,37.31,120.88,37.5,121.56,36.91,121.31,36.39,121.81,35.86,122.24,34.81,122.61,33.89,123.92,33.76,124.29,32.58,124.91,32.58,124.91,33.36,125.22,33.1,125.59,31.52,126.39,30.21,126.52,29.49,126.27,29.49,125.4,29.68,125.53,30.47,124.54,30.87,123.42,30.87,122.92,30.6,123.05,30.28,123.61,29.95,123.3,28.9,122.55,28.37,122.06,28.63,121.81,29.29,121.56,29.95,120.69,30.6,119.95,30.74,119.58,31.26,118.22,31.33,117.04,31.59,117.04,32.12,117.72,32.71,118.22,33.36,119.45,33.63,119.7,34.02,119.14,34.55,119.7,35.34,119.7,35.99,118.9,36.25];
const hYellowHoles=[[120.32,35.47,120.69,35.53,120.73,35.07,120.39,35],[119.95,34.28,120.32,34.55,120.38,34.09,120.07,33.96],[118.96,36.65,119.52,36.65,119.33,36.32,119.02,36.28]];
const hYellowExtra=[[117.84,28.83,118.46,28.9,119.45,29.09,120.26,28.9,119.95,28.24,119.7,27.91,118.71,28.11,117.84,27.85],[120.26,27.19,120.88,27.78,121.19,28.04,121.19,27.58,120.69,27.25,120.38,27.05],[125.71,37.57,126.46,37.57,126.52,36.65,125.9,36.78,125.53,37.31],[126.39,36.41,126.77,36.41,126.79,36.12,126.39,36.19],[126.21,39.41,126.64,39.41,126.64,39.08,126.21,39.15],[119.64,27.19,119.95,27.25,119.76,27],[119.95,24.82,120.26,24.89,120.14,24.49,119.89,24.49],[125.28,36.12,125.46,36.25,125.65,35.86,125.4,35.86],[126.02,34.48,126.64,34.94,126.39,34.61,126.08,34.28]];
const hOrange=[117.53,32.18,118.34,32.71,119.45,33.1,120.45,33.17,121,33.5,121.19,34.02,121,34.22,121.38,34.61,121.93,34.02,122.12,33.36,122.8,32.84,123.67,32.84,124.29,31.92,124.6,31.13,123.42,31.39,122.8,31.2,122.12,31,121.93,30.6,122.3,30.08,122.55,29.42,121.93,29.29,121.44,30.08,120.69,30.47,120.2,30.87,120.07,31.52,119.7,31.52,118.58,31.52,118.22,31.59];
const hDeep=[118.15,32.31,118.59,32.64,119.58,32.84,120.57,32.84,121.31,32.58,121.69,32.58,122.37,32.44,122.92,31.79,122.3,31.39,122.06,31,122,30.74,122.18,30.21,122.3,29.68,121.9,29.95,121.6,30.6,121.4,31.2,120.45,31.85,119.7,31.85,118.71,31.79,118.28,31.98];
const hRed=[[120.51,32.44,120.88,32.71,121.56,32.58,121.93,32.44,122.61,31.66,121.93,31.26,121.81,31.13,121.69,31.39,121.69,31.92,121.19,32.18],[121.75,30.47,121.93,30.54,122.24,29.95,122.06,29.82]];
const hMax=[121.31,32.25,121.62,32.25,122.3,31.66,121.81,31.33,121.75,31.79];

/* ---------- palettes and layout ---------- */
const dsrColors=["#1a2f6b","#2d66b0","#6fb6e0","#c0e6f7","#f8fbff","#fffdf2","#fed578","#fd9029","#dd2a30","#8f1014"];
const effectColors=["#15296b","#2458a8","#55a0d8","#96d6f4","#d2ecf7","#ffffff","#ffffff","#fde99a","#fdaf2f","#f56f28","#dc2127","#9b1217"];
const C={bgB:"#f8fbff",warmPale:"#fcfcf6",warm:"#fed578",d1:"#c0e6f7",d2:"#6fb6e0",d3:"#2d66b0",d4:"#1a2f6b",
         w:"#ffffff",t1:"#d2ecf7",t2:"#96d6f4",t3:"#55a0d8",t4:"#2458a8",y:"#fde99a",o:"#fdaf2f",oo:"#f56f28",r:"#dc2127",rr:"#9b1217"};
function many(color,list){return list.map(function(c){return [color,c];});}
const dsrCore=[].concat([[C.d2,dsrMid]],many(C.d2,aMidExtra),many(C.d1,dsrMidHoles),[[C.d3,dsrDarkNorth],[C.d3,dsrDarkSouth],[C.d2,dsrDarkHole]],many(C.d3,dsrDarkSmall),many(C.d4,dsrDarkest));
const panels=[
{id:"a",x:124.5,y:95.5,bg:C.bgB,row:0,col:0,layers:[].concat([[C.d1,aLight]],many(C.d1,aLightExtra),many(C.bgB,aClear),[[C.d1,aLightLow]],dsrCore)},
{id:"b",x:708,y:95.7,bg:C.bgB,row:0,col:1,layers:[].concat([[C.d1,bLight]],many(C.bgB,bClear),many(C.d1,bLightExtra),[[C.warmPale,bWarmPale]],many(C.warm,bWarm),dsrCore)},
{id:"c",x:1294,y:94.4,bg:C.bgB,row:0,col:2,layers:[].concat(many(C.warmPale,cPaleWarm),many(C.d1,cLight),many(C.d2,cMid))},
{id:"d",x:121.4,y:781,bg:C.w,row:1,col:0,layers:[].concat([[C.t1,dPale]],many(C.w,dClear),many(C.t1,dPaleExtra),[[C.t2,dLight]],many(C.t1,dLightHoles),many(C.t2,dLightExtra),many(C.t3,dMid),[[C.t2,dMidHole],[C.t4,dDark]],many(C.y,dYellow),many(C.o,dOrange),[[C.oo,dDeep]])},
{id:"e",x:705.5,y:781,bg:C.w,row:1,col:1,layers:[].concat([[C.t1,ePale]],many(C.w,eClear),many(C.t1,ePaleExtra),[[C.t2,eLight]],many(C.t1,eLightHoles),many(C.t2,eLightExtra),many(C.t3,eMid),[[C.t2,eMidHole],[C.t4,eDark]],many(C.y,eYellow),many(C.o,eOrange),many(C.oo,eDeep))},
{id:"f",x:1292,y:781,bg:C.w,row:1,col:2,layers:[]},
{id:"g",x:120.5,y:1450,bg:C.w,row:2,col:0,layers:[].concat(many(C.t1,gPale),[[C.y,gYellow]],many(C.w,gYellowHoles),many(C.y,gYellowExtra),many(C.o,gOrange),[[C.oo,gDeep]],many(C.r,gRed),[[C.rr,gMax]])},
{id:"h",x:706.7,y:1451,bg:C.w,row:2,col:1,layers:[].concat(many(C.t1,hPale),[[C.y,hYellow]],many(C.w,hYellowHoles),many(C.y,hYellowExtra),[[C.o,hOrange],[C.oo,hDeep]],many(C.r,hRed),[[C.rr,hMax]])},
{id:"i",x:1291,y:1451,bg:C.w,row:2,col:2,layers:[]}
];
const PANEL_W=556,PANEL_H=642.5;
const LON_MIN=108.98,LAT_MAX=43.63,PX_PER_LON=29.87,PX_PER_LAT=32.53;

/* ---------- axis functions ---------- */
function lonAxis(p,lon){return p.x+(lon-LON_MIN)*PX_PER_LON;}
function latAxis(p,lat){return p.y+(LAT_MAX-lat)*PX_PER_LAT;}

const NS="http://www.w3.org/2000/svg";
function mk(parent,tag,attrs,text){
  const e=document.createElementNS(NS,tag);
  for(const k in attrs){e.setAttribute(k,attrs[k]);}
  if(text!==undefined){e.textContent=text;}
  parent.appendChild(e);
  return e;
}
function toPts(p,flat){
  const out=[];
  for(let i=0;i<flat.length;i+=2){out.push([lonAxis(p,flat[i]),latAxis(p,flat[i+1])]);}
  return out;
}
function smoothClosed(pts){
  const n=pts.length;
  let d="M"+pts[0][0].toFixed(1)+" "+pts[0][1].toFixed(1);
  for(let i=0;i<n;i++){
    const p0=pts[(i-1+n)%n],p1=pts[i],p2=pts[(i+1)%n],p3=pts[(i+2)%n];
    const c1x=p1[0]+(p2[0]-p0[0])/6,c1y=p1[1]+(p2[1]-p0[1])/6;
    const c2x=p2[0]-(p3[0]-p1[0])/6,c2y=p2[1]-(p3[1]-p1[1])/6;
    d+="C"+c1x.toFixed(1)+" "+c1y.toFixed(1)+" "+c2x.toFixed(1)+" "+c2y.toFixed(1)+" "+p2[0].toFixed(1)+" "+p2[1].toFixed(1);
  }
  return d+"Z";
}
function smoothOpen(p,flat){
  const pts=toPts(p,flat),n=pts.length;
  let d="M"+pts[0][0].toFixed(1)+" "+pts[0][1].toFixed(1);
  for(let i=0;i<n-1;i++){
    const p0=pts[Math.max(i-1,0)],p1=pts[i],p2=pts[i+1],p3=pts[Math.min(i+2,n-1)];
    const c1x=p1[0]+(p2[0]-p0[0])/6,c1y=p1[1]+(p2[1]-p0[1])/6;
    const c2x=p2[0]-(p3[0]-p1[0])/6,c2y=p2[1]-(p3[1]-p1[1])/6;
    d+="C"+c1x.toFixed(1)+" "+c1y.toFixed(1)+" "+c2x.toFixed(1)+" "+c2y.toFixed(1)+" "+p2[0].toFixed(1)+" "+p2[1].toFixed(1);
  }
  return d;
}
function polyline(p,flat){
  return toPts(p,flat).map(function(q,i){return (i?"L":"M")+q[0].toFixed(1)+" "+q[1].toFixed(1);}).join("");
}
function joinSmooth(p,lists){return lists.map(function(f){return smoothOpen(p,f);}).join("");}

const mapsRoot=document.getElementById("maps");
const defs=mk(mapsRoot,"defs",{});
panels.forEach(function(p){
  const clip=mk(defs,"clipPath",{id:"clip-"+p.id});
  mk(clip,"rect",{x:p.x,y:p.y,width:PANEL_W,height:PANEL_H});

  const g=mk(mapsRoot,"g",{});
  
  

  const inner=mk(g,"g",{"clip-path":"url(#clip-"+p.id+")"});
  const bg=mk(inner,"rect",{x:p.x,y:p.y,width:PANEL_W,height:PANEL_H,fill:p.bg});
  
  

  p.layers.forEach(function(layer){
    const path=mk(inner,"path",{d:smoothClosed(toPts(p,layer[1])),fill:layer[0]});
    
    
  });

  const grid=mk(inner,"path",{d:joinSmooth(p,parallels)+joinSmooth(p,meridians),fill:"none",stroke:"#999","stroke-opacity":"0.65","stroke-width":"1.3"});
  
  

  const prov=mk(inner,"path",{d:joinSmooth(p,provinceLines),fill:"none",stroke:"#8a8a8a","stroke-opacity":"0.6","stroke-width":"1.2","stroke-linejoin":"round"});
  
  

  const coast=mk(inner,"path",{d:joinSmooth(p,coastLines),fill:"none",stroke:"#111","stroke-width":"1.6","stroke-linejoin":"round"});
  
  

  for(let i=0;i<islandSpots.length;i+=2){
    const dot=mk(inner,"circle",{cx:lonAxis(p,islandSpots[i]).toFixed(1),cy:latAxis(p,islandSpots[i+1]).toFixed(1),r:"1.9",fill:"#111"});
    
    
  }

  const box=mk(inner,"path",{d:polyline(p,regionBox),fill:"none",stroke:"#222","stroke-width":"1.7"});
  
  

  const frame=mk(g,"rect",{x:p.x,y:p.y,width:PANEL_W,height:PANEL_H,fill:"none",stroke:"#1a1a1a","stroke-width":"2.6"});
  
  

  /* bottom ticks */
  lonTicks.forEach(function(v){
    const major=(v-110)%4===0;
    const len=(p.row===0||major)?12:3;
    const x=lonAxis(p,v);
    const t=mk(g,"line",{x1:x,x2:x,y1:p.y+PANEL_H,y2:p.y+PANEL_H+len,stroke:"#333","stroke-width":"1.8"});
    
    
  });
  /* left ticks */
  latTicks.forEach(function(v){
    const major=v%4===0;
    const showAll=p.row===0&&p.col>0;
    if(!major&&!showAll){return;}
    if(v===42&&!showAll){return;}
    const y=latAxis(p,v);
    const t=mk(g,"line",{x1:p.x-12,x2:p.x,y1:y,y2:y,stroke:"#333","stroke-width":"1.8"});
    
    
  });
  /* latitude labels on the first column */
  if(p.col===0){
    latLabels.forEach(function(label,i){
      const t=mk(g,"text",{x:105,y:(latAxis(p,latLabelValues[i])+10).toFixed(1),"font-size":"28","text-anchor":"end",textLength:"76"},label);
      
      
    });
  }
  /* longitude labels on the last row */
  if(p.row===2){
    lonLabels.forEach(function(label,i){
      const nudge=5+2*i;
      const t=mk(g,"text",{x:(lonAxis(p,lonLabelValues[i])+nudge).toFixed(1),y:2136,"font-size":"28","text-anchor":"middle",textLength:"81"},label);
      
      
    });
  }
});

/* ---------- colorbars ---------- */
const barsRoot=document.getElementById("bars");
function drawBar(name,top,height,colors,levels,anchor,labelX){
  const seg=height/colors.length;
  const x=1954,w=37;
  const g=mk(barsRoot,"g",{});
  
  
  colors.forEach(function(c,i){
    const r=mk(g,"rect",{x:x,y:(top+i*seg).toFixed(1),width:w,height:(seg+0.3).toFixed(1),fill:c});
    
    
  });
  for(let i=1;i<colors.length;i++){
    const y=(top+i*seg).toFixed(1);
    const l=mk(g,"line",{x1:x,x2:x+w,y1:y,y2:y,stroke:"#555","stroke-width":"1","stroke-opacity":"0.7"});
    
    
  }
  const out=mk(g,"rect",{x:x,y:top,width:w,height:height,fill:"none",stroke:"#888","stroke-width":"1"});
  
  
  levels.forEach(function(label,i){
    const t=mk(g,"text",{x:labelX(label),y:(top+(i+1)*seg+10).toFixed(1),"font-size":"28","text-anchor":anchor},label);
    
    
  });
}
drawBar("colorbar-dsr",104,624,dsrColors,dsrLevels,"end",function(s){
  if(s.charAt(0)==="-"){return s.length>3?1943:1940;}
  return s==="0"?1936:1932;
});
drawBar("colorbar-tns",779,625,effectColors,tnsLevels,"end",function(){return 1934;});
drawBar("colorbar-qns",1462,624,effectColors,qnsLevels,"start",function(s){return s.charAt(0)==="-"?1875:1883;});
</script>
</body>
</html>
